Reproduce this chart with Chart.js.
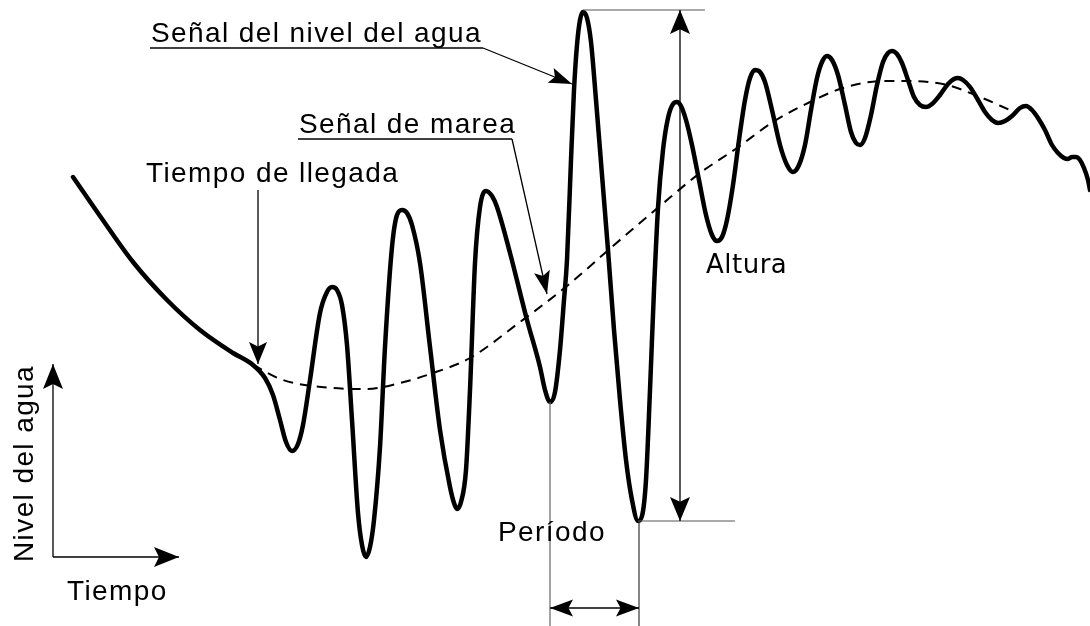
<!DOCTYPE html>
<html>
<head>
<meta charset="utf-8">
<script src="https://cdn.jsdelivr.net/npm/chart.js@4.4.1/dist/chart.umd.min.js"></script>
<style>
  html, body { margin: 0; padding: 0; background: #ffffff; }
  #wrap { width: 1090px; height: 626px; position: relative; }
</style>
</head>
<body>
<div id="wrap"><canvas id="c" width="1090" height="626"></canvas></div>
<script>
// ---- Data (time units, water-level units) ----
const waterTime = [
  73,100,133,167,200,233,253,265,273,280,
  286,292,298,303,310,320,327,332,337,342,
  347,352,358,362,366,370,374,380,385,392,
  397,402,407,412,420,430,440,450,454,457,
  461,466,470,475,480,486,492,497,510,527,
  540,545,550,555,560,564,567,571,574,
  577,580,583,587,591,596,602,608,614,620,
  626,632,638,642,646,650,654,658,663,668,
  673,677,681,686,692,699,706,712,717,722,
  727,733,739,745,750,755,760,765,772,780,
  787,793,799,805,811,817,822,827,832,838,
  845,851,856,860,865,871,877,883,888,892,
  897,902,908,914,920,926,932,940,948,954,
  958,963,970,978,985,992,998,1005,1012,1020,
  1026,1032,1038,1045,1052,1058,1064,1068,1072,1076,
  1080,1084,1088,1090
];
const waterLevel = [
  449,410,364,326,296,273,261,248,231,206,
  184,175,182,201,246,313,334,339,336,321,
  281,206,113,81,69,79,106,179,279,379,
  411,416,413,401,363,279,196,139,123,117,
  124,156,236,363,419,435,430,419,373,306,
  259,236,224,234,276,326,366,466,536,
  581,606,614,608,584,526,451,376,296,226,
  166,126,105,110,146,236,336,418,476,508,
  522,524,520,506,481,446,411,391,385,389,
  406,441,486,526,548,556,554,544,516,481,
  461,454,461,481,516,548,564,570,566,551,
  521,494,483,481,488,511,541,564,573,575,
  572,563,546,529,521,519,522,531,542,547,
  548,546,539,526,514,506,503,505,510,518,
  520,516,508,496,481,473,468,467,469,469,
  466,458,446,436
];
const tideTime  = [253,283,333,367,400,430,470,520,567,613,660,700,737,773,810,843,883,910,947,980,1012];
const tideLevel = [261,246,238,237,243,252,268,304,340,380,420,453,478,504,524,538,545,545,541,529,515];

const labels = {
  water: 'Señal del nivel del agua',
  tide: 'Señal de marea',
  arrival: 'Tiempo de llegada',
  height: 'Altura',
  period: 'Período',
  xAxis: 'Tiempo',
  yAxis: 'Nivel del agua'
};

const toPoints = (xs, ys) => xs.map((x, i) => ({ x: x, y: ys[i] }));

// ---- annotation plugin (positions in data units, converted by scales) ----
const FONT = '28px "Liberation Sans", Arial, sans-serif';
function arrowHead(ctx, x0, y0, x1, y1, len, wid) {
  const a = Math.atan2(y1 - y0, x1 - x0);
  const c = Math.cos(a), s = Math.sin(a);
  const bx = x1 - len * c, by = y1 - len * s;
  const nx = x1 - len * 0.8 * c, ny = y1 - len * 0.8 * s;
  ctx.beginPath();
  ctx.moveTo(x1, y1);
  ctx.lineTo(bx + (wid / 2) * s, by - (wid / 2) * c);
  ctx.lineTo(nx, ny);
  ctx.lineTo(bx - (wid / 2) * s, by + (wid / 2) * c);
  ctx.closePath();
  ctx.fill();
}
const annot = {
  id: 'annot',
  afterDatasetsDraw(chart) {
    const ctx = chart.ctx;
    const X = v => chart.scales.x.getPixelForValue(v);
    const Y = v => chart.scales.y.getPixelForValue(v);
    ctx.save();
    ctx.fillStyle = '#000';
    ctx.strokeStyle = '#000';
    ctx.textBaseline = 'alphabetic';
    ctx.textAlign = 'left';
    const spacing = v => { try { ctx.letterSpacing = v; } catch (e) {} };
    spacing('1.4px');
    ctx.font = FONT;

    function seg(x0, l0, x1, l1, w, col) {
      ctx.beginPath();
      ctx.lineWidth = w; ctx.strokeStyle = col || '#000';
      ctx.moveTo(X(x0), Y(l0)); ctx.lineTo(X(x1), Y(l1)); ctx.stroke();
    }
    function arrow(x0, l0, x1, l1, len, wid) {
      seg(x0, l0, x1, l1, 1.3);
      ctx.fillStyle = '#000';
      arrowHead(ctx, X(x0), Y(l0), X(x1), Y(l1), len, wid);
    }

    // Señal del nivel del agua
    ctx.fillText(labels.water, X(151), Y(584));
    seg(150, 578, 483, 578, 1.3);
    arrow(483, 578, 572, 542, 23, 16);

    // Señal de marea
    ctx.fillText(labels.tide, X(299), Y(493));
    seg(298, 487, 512, 487, 1.3);
    arrow(512, 487, 547, 332, 23, 16);

    // Tiempo de llegada
    ctx.fillText(labels.arrival, X(146), Y(444));
    arrow(258, 436, 258, 262, 22, 18);

    // Altura
    seg(583, 616, 705, 616, 1, '#555');
    seg(638, 105, 735, 105, 1, '#555');
    arrow(680, 360, 680, 616, 24, 20);
    arrow(680, 360, 680, 105, 24, 20);
    ctx.font = '26px "DejaVu Sans", sans-serif';
    spacing('0.5px');
    ctx.fillText(labels.height, X(706), Y(353));
    ctx.font = FONT;
    spacing('1.4px');

    // Período
    seg(550, 224, 550, 0, 1.2, '#666');
    seg(639, 105, 639, 0, 1.2, '#333');
    arrow(595, 18, 550, 18, 23, 17);
    arrow(595, 18, 639, 18, 23, 17);
    ctx.fillText(labels.period, X(498), Y(85));

    // axis key
    arrow(53, 69, 53, 262, 25, 20);
    arrow(53, 69, 179, 69, 25, 20);
    ctx.fillText(labels.xAxis, X(67), Y(26));
    ctx.save();
    ctx.translate(X(33), Y(64));
    ctx.rotate(-Math.PI / 2);
    ctx.fillText(labels.yAxis, 0, 0);
    ctx.restore();

    ctx.restore();
  }
};

new Chart(document.getElementById('c'), {
  type: 'line',
  data: {
    datasets: [
      {
        label: labels.tide,
        data: toPoints(tideTime, tideLevel),
        borderColor: '#000',
        borderWidth: 2,
        borderDash: [10, 7],
        pointRadius: 0,
        fill: false,
        cubicInterpolationMode: 'monotone',
        order: 2
      },
      {
        label: labels.water,
        data: toPoints(waterTime, waterLevel),
        borderColor: '#000',
        borderWidth: 4.5,
        pointRadius: 0,
        fill: false,
        cubicInterpolationMode: 'monotone',
        borderCapStyle: 'round',
        borderJoinStyle: 'round',
        order: 1
      }
    ]
  },
  options: {
    responsive: false,
    animation: false,
    layout: { padding: 0 },
    plugins: { legend: { display: false }, tooltip: { enabled: false } },
    scales: {
      x: { type: 'linear', min: 0, max: 1090, display: false },
      y: { type: 'linear', min: 0, max: 626, display: false }
    }
  },
  plugins: [annot]
});
</script>
</body>
</html>
